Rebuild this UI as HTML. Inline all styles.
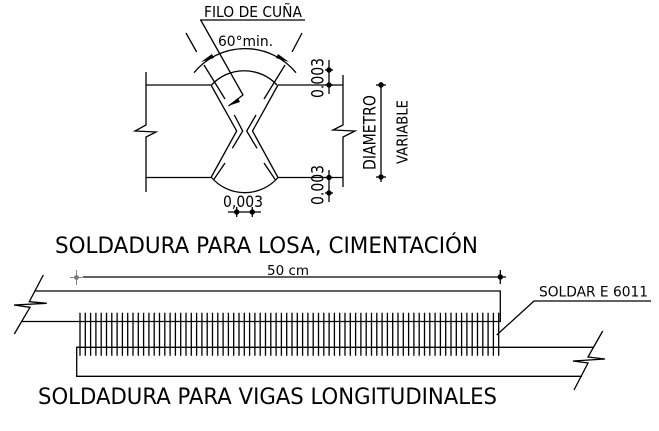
<!DOCTYPE html>
<html>
<head>
<meta charset="utf-8">
<style>
html,body{margin:0;padding:0;background:#fff;width:659px;height:431px;overflow:hidden}
svg{display:block}
text{font-family:"DejaVu Sans",sans-serif;fill:#000}
</style>
</head>
<body>
<svg width="659" height="431" viewBox="0 0 659 431" xmlns="http://www.w3.org/2000/svg">
<g fill="none" stroke="#000" stroke-width="1.3">
<!-- left plate -->
<polyline points="146,72 146,125 135,131 156,132 146,137 146,192"/>
<line x1="146" y1="85" x2="211" y2="85"/>
<line x1="146" y1="177.5" x2="211" y2="177.5"/>
<!-- right plate -->
<polyline points="343,75 343,125 333,130 355,131 343,137 343,187"/>
<line x1="278" y1="85" x2="343" y2="85"/>
<line x1="278" y1="177.5" x2="343" y2="177.5"/>
<!-- V groove -->
<polyline points="211,85 236.7,131 211,177.5"/>
<polyline points="278,85 252.5,131 278,177.5"/>
<polyline points="234.3,115 242.7,131 232.3,148.3"/>
<polyline points="256,115 246.7,131 257,148.3"/>
<line x1="204" y1="65" x2="225" y2="99"/>
<line x1="285" y1="65" x2="264" y2="99"/>
<line x1="225" y1="163" x2="213.5" y2="180"/>
<line x1="264" y1="163" x2="275.5" y2="180"/>
<!-- arcs -->
<path d="M211.5,85 A44.7,44.7 0 0 1 277,85"/>
<path d="M194,72.7 A66,66 0 0 1 296,72.7"/>
<path d="M211.5,177.5 A44,44 0 0 0 278,177.5"/>
<!-- extension ticks -->
<line x1="186" y1="33" x2="196.7" y2="52"/>
<line x1="302" y1="33" x2="292" y2="52"/>
<!-- leader top -->
<line x1="200" y1="20" x2="305" y2="20"/>
<polyline points="200.7,20 243,95 228.5,106"/>
<!-- dims right -->
<line x1="329" y1="60" x2="329" y2="94"/>
<line x1="325" y1="70" x2="333" y2="70"/>
<line x1="325" y1="85" x2="333" y2="85"/>
<line x1="329" y1="170" x2="329" y2="202"/>
<line x1="325" y1="177.5" x2="333" y2="177.5"/>
<line x1="325" y1="193" x2="333" y2="193"/>
<line x1="381" y1="82" x2="381" y2="182"/>
<line x1="376" y1="85" x2="386" y2="85"/>
<line x1="376" y1="177" x2="386" y2="177"/>
<!-- dim bottom -->
<line x1="228" y1="212" x2="261" y2="212"/>
<line x1="236.7" y1="207" x2="236.7" y2="217"/>
<line x1="252.3" y1="207" x2="252.3" y2="217"/>
<!-- lower drawing -->
<line x1="83" y1="277" x2="506" y2="277"/>
<line x1="500.3" y1="270" x2="500.3" y2="284"/>
<polyline points="35,291 500.3,291 500.3,321.5 22,321.5"/>
<polyline points="43.3,275 29.3,301.7 46.7,303.3 14,305 30,307.3 14.3,334"/>
<polyline points="593,347.3 76.7,347.3 76.7,376.3 582,376.3"/>
<polyline points="602.7,331 588,357 605,359 573,361 588,363 574,390"/>
<polyline points="496.7,335 534,301 651,301"/>
</g>
<!-- gray tick -->
<g stroke="#888" stroke-width="1">
<line x1="70" y1="277.5" x2="84" y2="277.5"/>
<line x1="76.5" y1="270" x2="76.5" y2="285"/>
</g>
<circle cx="76.5" cy="277.5" r="2.4" fill="#777"/>
<!-- hatch -->
<path fill="none" stroke="#000" stroke-width="1.3" d="M80,312.7V355.7M85.3,312.7V355.7M90.6,312.7V355.7M95.9,312.7V355.7M101.2,312.7V355.7M106.5,312.7V355.7M111.8,312.7V355.7M117.1,312.7V355.7M122.4,312.7V355.7M127.7,312.7V355.7M133,312.7V355.7M138.3,312.7V355.7M143.6,312.7V355.7M148.9,312.7V355.7M154.2,312.7V355.7M159.5,312.7V355.7M164.8,312.7V355.7M170.1,312.7V355.7M175.4,312.7V355.7M180.7,312.7V355.7M186,312.7V355.7M191.3,312.7V355.7M196.6,312.7V355.7M201.9,312.7V355.7M207.2,312.7V355.7M212.5,312.7V355.7M217.8,312.7V355.7M223.1,312.7V355.7M228.4,312.7V355.7M233.7,312.7V355.7M239,312.7V355.7M244.3,312.7V355.7M249.6,312.7V355.7M254.9,312.7V355.7M260.2,312.7V355.7M265.5,312.7V355.7M270.8,312.7V355.7M276.1,312.7V355.7M281.4,312.7V355.7M286.7,312.7V355.7M292,312.7V355.7M297.3,312.7V355.7M302.6,312.7V355.7M307.9,312.7V355.7M313.2,312.7V355.7M318.5,312.7V355.7M323.8,312.7V355.7M329.1,312.7V355.7M334.4,312.7V355.7M339.7,312.7V355.7M345,312.7V355.7M350.3,312.7V355.7M355.6,312.7V355.7M360.9,312.7V355.7M366.2,312.7V355.7M371.5,312.7V355.7M376.8,312.7V355.7M382.1,312.7V355.7M387.4,312.7V355.7M392.7,312.7V355.7M398,312.7V355.7M403.3,312.7V355.7M408.6,312.7V355.7M413.9,312.7V355.7M419.2,312.7V355.7M424.5,312.7V355.7M429.8,312.7V355.7M435.1,312.7V355.7M440.4,312.7V355.7M445.7,312.7V355.7M451,312.7V355.7M456.3,312.7V355.7M461.6,312.7V355.7M466.9,312.7V355.7M472.2,312.7V355.7M477.5,312.7V355.7M482.8,312.7V355.7M488.1,312.7V355.7M493.4,312.7V355.7M498.7,312.7V355.7"/>
<!-- dots -->
<g fill="#000">
<circle cx="329" cy="70" r="2.7"/><circle cx="329" cy="85" r="2.7"/>
<circle cx="329" cy="177.5" r="2.7"/><circle cx="329" cy="193" r="2.7"/>
<circle cx="381" cy="85" r="2.7"/><circle cx="381" cy="177" r="2.7"/>
<circle cx="236.7" cy="212" r="2.7"/><circle cx="252.3" cy="212" r="2.7"/>
<circle cx="500.3" cy="277" r="2.7"/>
<!-- arrowheads -->
<polygon points="228,106 238,98 240,102"/>
<polygon points="201,62 212,54 214,58"/>
<polygon points="289,62 278,54 276,58"/>
</g>
<!-- text -->
<text x="204" y="17" font-size="15.5" textLength="98" lengthAdjust="spacingAndGlyphs">FILO DE CUÑA</text>
<text x="218" y="46" font-size="14.5" textLength="55" lengthAdjust="spacingAndGlyphs">60°min.</text>
<text transform="translate(323.5,98) rotate(-90)" font-size="16.5" textLength="40" lengthAdjust="spacingAndGlyphs">0.003</text>
<text transform="translate(323.5,205) rotate(-90)" font-size="16.5" textLength="40" lengthAdjust="spacingAndGlyphs">0.003</text>
<text x="223" y="207" font-size="16" textLength="40" lengthAdjust="spacingAndGlyphs">0,003</text>
<text transform="translate(375.5,170) rotate(-90)" font-size="16.5" textLength="75" lengthAdjust="spacingAndGlyphs">DIAMETRO</text>
<text transform="translate(407.7,164) rotate(-90)" font-size="15" textLength="64" lengthAdjust="spacingAndGlyphs">VARIABLE</text>
<text x="55" y="253" font-size="22" textLength="423" lengthAdjust="spacingAndGlyphs">SOLDADURA PARA LOSA, CIMENTACIÓN</text>
<text x="267" y="275" font-size="13.5" textLength="42" lengthAdjust="spacingAndGlyphs">50 cm</text>
<text x="539" y="296.5" font-size="14" textLength="109" lengthAdjust="spacingAndGlyphs">SOLDAR E 6011</text>
<text x="38" y="404" font-size="22" textLength="459" lengthAdjust="spacingAndGlyphs">SOLDADURA PARA VIGAS LONGITUDINALES</text>
</svg>
</body>
</html>
